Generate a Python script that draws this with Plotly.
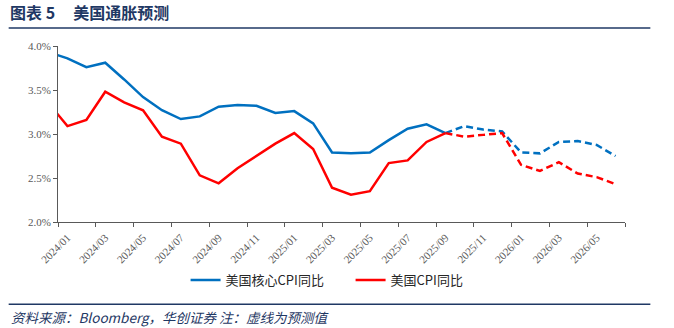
import plotly.graph_objects as go

# ---------------- data ----------------
months_actual = ["2023/12", "2024/01", "2024/02", "2024/03", "2024/04", "2024/05", "2024/06",
                 "2024/07", "2024/08", "2024/09", "2024/10", "2024/11", "2024/12",
                 "2025/01", "2025/02", "2025/03", "2025/04", "2025/05", "2025/06",
                 "2025/07", "2025/08", "2025/09"]
core_actual = [3.93, 3.86, 3.76, 3.81, 3.62, 3.42, 3.27, 3.17, 3.20, 3.31, 3.33, 3.32, 3.24,
               3.26, 3.12, 2.79, 2.78, 2.79, 2.93, 3.06, 3.11, 3.01]
cpi_actual = [3.35, 3.09, 3.16, 3.48, 3.36, 3.27, 2.97, 2.89, 2.53, 2.44, 2.61, 2.75, 2.89,
              3.01, 2.83, 2.39, 2.31, 2.35, 2.67, 2.70, 2.91, 3.01]

months_fcst = ["2025/09", "2025/10", "2025/11", "2025/12", "2026/01", "2026/02",
               "2026/03", "2026/04", "2026/05", "2026/06"]
core_fcst = [3.01, 3.09, 3.05, 3.03, 2.79, 2.78, 2.91, 2.92, 2.875, 2.75]
cpi_fcst = [3.01, 2.97, 2.99, 3.01, 2.65, 2.58, 2.68, 2.55, 2.51, 2.43]

tick_labels = ["2024/01", "2024/03", "2024/05", "2024/07", "2024/09", "2024/11",
               "2025/01", "2025/03", "2025/05", "2025/07", "2025/09", "2025/11",
               "2026/01", "2026/03", "2026/05"]

BLUE = "#0070C0"
RED = "#FF0000"
NAVY = "#1F3864"
AXIS = "#595959"


def month_pos(label, mid=True):
    """Month index from 2024/01 (0); points sit in the middle of their month."""
    y, m = label.split("/")
    return (int(y) - 2024) * 12 + (int(m) - 1) + (0.5 if mid else 0.0)


x_act = [month_pos(m) for m in months_actual]
x_fc = [month_pos(m) for m in months_fcst]
label_pos = [month_pos(t) for t in tick_labels]             # labels centred on month
tick_pos = [month_pos(t, mid=False) for t in tick_labels] + [30]  # marks on month boundaries

fig = go.Figure()
fig.add_trace(go.Scatter(x=x_act, y=core_actual, mode="lines", name="美国核心CPI同比",
                         line=dict(color=BLUE, width=2.5)))
fig.add_trace(go.Scatter(x=x_act, y=cpi_actual, mode="lines", name="美国CPI同比",
                         line=dict(color=RED, width=2.5)))
fig.add_trace(go.Scatter(x=x_fc, y=core_fcst, mode="lines", showlegend=False,
                         line=dict(color=BLUE, width=2.5, dash="7px,4px")))
fig.add_trace(go.Scatter(x=x_fc, y=cpi_fcst, mode="lines", showlegend=False,
                         line=dict(color=RED, width=2.5, dash="7px,4px")))

tickfont = dict(family="Liberation Serif, Times New Roman, serif", size=11, color=AXIS)

fig.update_layout(
    width=674, height=328,
    margin=dict(l=58, r=49, t=46, b=106),
    paper_bgcolor="white", plot_bgcolor="white",
    font=dict(family="Noto Sans CJK SC, sans-serif", color="#262626"),
    xaxis=dict(range=[0, 30], tickmode="array", tickvals=tick_pos,
               showticklabels=False, showline=True, linecolor=AXIS, linewidth=1,
               ticks="outside", ticklen=4, tickcolor=AXIS, showgrid=False,
               zeroline=False),
    xaxis2=dict(range=[0, 30], overlaying="x", side="bottom", anchor="y",
                tickmode="array", tickvals=label_pos, ticktext=tick_labels,
                tickangle=-45, showline=False, ticks="outside", ticklen=4,
                tickcolor="rgba(0,0,0,0)", showgrid=False, zeroline=False,
                tickfont=tickfont),
    yaxis=dict(range=[2.0, 4.0], dtick=0.5, tickformat=".1f", ticksuffix="%",
               showline=True, linecolor=AXIS, linewidth=1,
               ticks="outside", ticklen=4, tickcolor=AXIS, showgrid=False,
               zeroline=False, tickfont=tickfont),
    legend=dict(orientation="h", x=0.225, xanchor="left", y=-0.33, yanchor="middle",
                font=dict(size=13, family="Noto Sans CJK SC, sans-serif", color="#262626"),
                entrywidth=120, entrywidthmode="pixels", itemwidth=30,
                bgcolor="rgba(0,0,0,0)"),
    showlegend=True,
)

# invisible helper trace so that the label axis is drawn
fig.add_trace(go.Scatter(x=[label_pos[0]], y=[None], xaxis="x2", yaxis="y",
                         mode="lines", showlegend=False, hoverinfo="skip"))

# title and source
fig.add_annotation(text="<b>图表 5&nbsp;&nbsp;&nbsp;&nbsp;&nbsp;美国通胀预测</b>",
                   xref="paper", yref="paper", x=-0.087, y=1.196, borderpad=0,
                   xanchor="left", yanchor="middle", showarrow=False,
                   font=dict(size=16, color=NAVY, family="Noto Sans CJK SC, sans-serif"))
fig.add_annotation(text="<i>资料来源：Bloomberg，华创证券 注：虚线为预测值</i>",
                   xref="paper", yref="paper", x=-0.087, y=-0.54,
                   xanchor="left", yanchor="middle", showarrow=False,
                   font=dict(size=13.5, color=NAVY, family="Noto Sans CJK SC, sans-serif"))
fig.add_shape(type="line", xref="paper", yref="paper", x0=-0.087, x1=1.0447,
              y0=1.102, y1=1.102, line=dict(color=NAVY, width=1.5))
fig.add_shape(type="line", xref="paper", yref="paper", x0=-0.087, x1=1.0447,
              y0=-0.4676, y1=-0.4676, line=dict(color=NAVY, width=1.5))

fig.write_html("out.html")
